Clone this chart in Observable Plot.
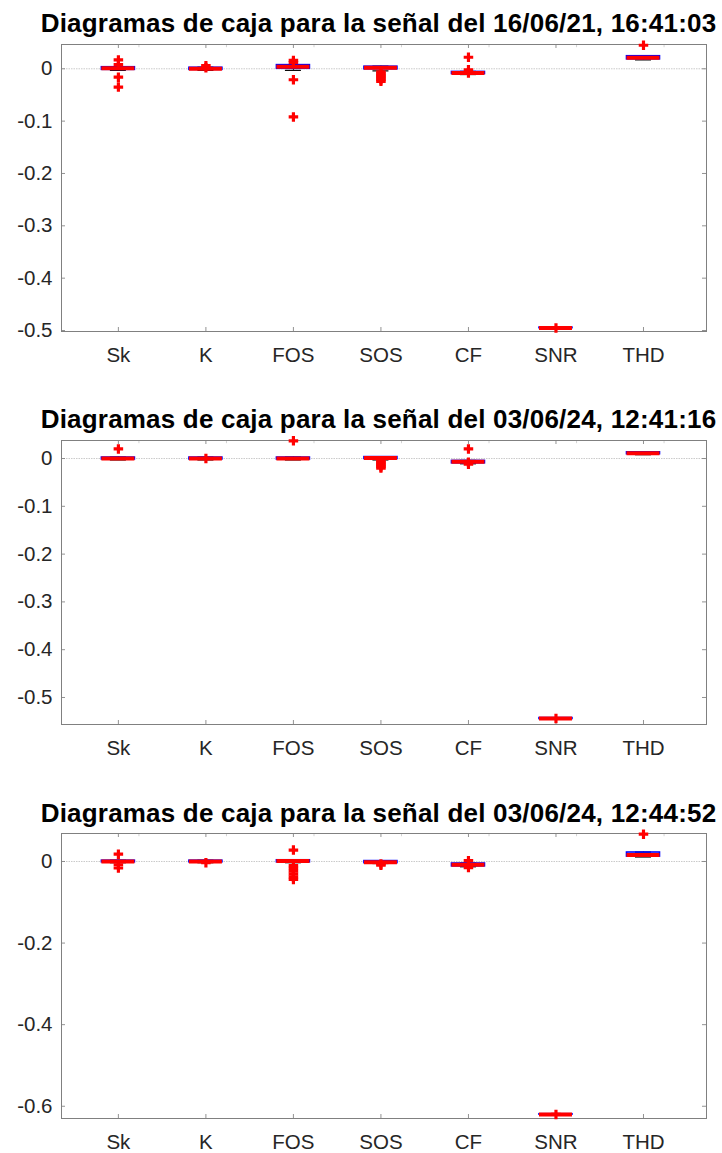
<!DOCTYPE html>
<html>
<head>
<meta charset="utf-8">
<script src="https://cdn.jsdelivr.net/npm/d3@7"></script>
<script src="https://cdn.jsdelivr.net/npm/@observablehq/plot@0.6"></script>
<style>
  html, body { margin: 0; padding: 0; background: #fff; }
  #wrap { position: relative; width: 722px; height: 1153px; overflow: hidden; background: #fff; }
  .ttl { position: absolute; white-space: nowrap; font-family: "Liberation Sans", Arial, sans-serif;
         font-weight: bold; font-size: 26px; letter-spacing: 0.2px; line-height: 1; color: #000; transform: translateX(-50%); }
  .pnl { position: absolute; left: 0; }
</style>
</head>
<body>
<div id="wrap"></div>
<script>
// ---------- data ----------
const categories = ["Sk", "K", "FOS", "SOS", "CF", "SNR", "THD"];

const titles = [
  "Diagramas de caja para la señal del 16/06/21, 16:41:03",
  "Diagramas de caja para la señal del 03/06/24, 12:41:16",
  "Diagramas de caja para la señal del 03/06/24, 12:44:52"
];

// Panel 1 (16/06/21)
const p1Q1      = [-0.002, -0.002, 0.000, -0.001, -0.010, -0.4955, 0.018];
const p1Median  = [ 0.001,  0.000, 0.004,  0.002, -0.008, -0.4950, 0.021];
const p1Q3      = [ 0.003,  0.002, 0.007,  0.004, -0.006, -0.4945, 0.024];
const p1WhiskLo = [-0.003, -0.003, -0.003, -0.004, -0.011, -0.4955, 0.017];
const p1WhiskHi = [ 0.004,  0.003, 0.008,  0.005, -0.005, -0.4945, 0.025];
const p1Outliers = [
  [0.017, 0.008, -0.016, -0.035],
  [0.006, 0.002],
  [0.016, 0.012, -0.021, -0.092],
  [-0.006, -0.009, -0.012, -0.015, -0.018, -0.021, -0.024],
  [0.022, -0.002, -0.008],
  [-0.495],
  [0.045]
];
const p1YTicks = [-0.5, -0.4, -0.3, -0.2, -0.1, 0];
const p1YDomain = [-0.5019, 0.0464];

// Panel 2 (03/06/24 12:41:16)
const p2Q1      = [-0.002, -0.002, -0.002, -0.001, -0.010, -0.5450, 0.009];
const p2Median  = [ 0.000,  0.000,  0.000,  0.001, -0.007, -0.5440, 0.011];
const p2Q3      = [ 0.002,  0.002,  0.002,  0.003, -0.005, -0.5430, 0.013];
const p2WhiskLo = [-0.003, -0.003, -0.003, -0.003, -0.011, -0.5450, 0.008];
const p2WhiskHi = [ 0.003,  0.003,  0.003,  0.004, -0.004, -0.5430, 0.014];
const p2Outliers = [
  [0.020],
  [0.000],
  [0.037],
  [-0.005, -0.008, -0.011, -0.014, -0.017, -0.020],
  [0.020, -0.008, -0.012],
  [-0.544],
  []
];
const p2YTicks = [-0.5, -0.4, -0.3, -0.2, -0.1, 0];
const p2YDomain = [-0.5565, 0.0377];

// Panel 3 (03/06/24 12:44:52)
const p3Q1      = [-0.002, -0.002, -0.002, -0.004, -0.012, -0.6205, 0.012];
const p3Median  = [ 0.000,  0.000,  0.001, -0.002, -0.008, -0.6200, 0.016];
const p3Q3      = [ 0.002,  0.002,  0.003,  0.001, -0.005, -0.6195, 0.022];
const p3WhiskLo = [-0.003, -0.003, -0.003, -0.005, -0.013, -0.6205, 0.011];
const p3WhiskHi = [ 0.003,  0.003,  0.004,  0.002, -0.004, -0.6195, 0.023];
const p3Outliers = [
  [0.018, -0.008, -0.016],
  [-0.003],
  [0.028, -0.010, -0.017, -0.024, -0.031, -0.038, -0.044],
  [-0.006, -0.009],
  [0.002, -0.015],
  [-0.620],
  [0.067]
];
const p3YTicks = [-0.6, -0.4, -0.2, 0];
const p3YDomain = [-0.630, 0.0686];

// ---------- layout ----------
const panels = [
  {title: titles[0], q1: p1Q1, med: p1Median, q3: p1Q3, lo: p1WhiskLo, hi: p1WhiskHi, out: p1Outliers,
   yTicks: p1YTicks, yDomain: p1YDomain, top: 0, marginTop: 44, plotH: 287, marginBottom: 40, titleTop: 9.5},
  {title: titles[1], q1: p2Q1, med: p2Median, q3: p2Q3, lo: p2WhiskLo, hi: p2WhiskHi, out: p2Outliers,
   yTicks: p2YTicks, yDomain: p2YDomain, top: 390, marginTop: 50, plotH: 284, marginBottom: 40, titleTop: 405.5},
  {title: titles[2], q1: p3Q1, med: p3Median, q3: p3Q3, lo: p3WhiskLo, hi: p3WhiskHi, out: p3Outliers,
   yTicks: p3YTicks, yDomain: p3YDomain, top: 783, marginTop: 50, plotH: 285, marginBottom: 35, titleTop: 800}
];

const W = 722, ML = 61, MR = 16;
const xDomain = [0.35, 7.72];
const pxPerX = (W - ML - MR) / (xDomain[1] - xDomain[0]);
const halfBox = 16.5 / pxPerX;
const halfCap = 8 / pxPerX;
const titleCenter = 378.5;

const wrap = document.getElementById("wrap");

panels.forEach(p => {
  const rows = categories.map((c, i) => ({
    i: i + 1, cat: c, q1: p.q1[i], med: p.med[i], q3: p.q3[i], lo: p.lo[i], hi: p.hi[i]
  }));
  const outs = [];
  categories.forEach((c, i) => p.out[i].forEach(v => outs.push({i: i + 1, v})));
  const [y0, y1] = p.yDomain;
  const pxPerY = p.plotH / (y1 - y0);
  const tickLenY = 4 / pxPerY;
  const tickLenX = 4 / pxPerX;
  const xt = d3.range(1, 8);
  const xtMinor = xt.map(d => d + 0.235).filter(d => d < xDomain[1]);

  const chart = Plot.plot({
    width: W,
    height: p.marginTop + p.plotH + p.marginBottom,
    marginLeft: ML, marginRight: MR, marginTop: p.marginTop, marginBottom: p.marginBottom,
    style: {fontFamily: "'Liberation Sans', Arial, sans-serif", fontSize: "20.5px", color: "#262626", background: "transparent", overflow: "visible"},
    x: {type: "linear", domain: xDomain, ticks: xt, tickFormat: d => categories[d - 1], tickSize: 0, tickPadding: 16, label: null},
    y: {domain: p.yDomain, ticks: p.yTicks, tickFormat: d => d === 0 ? "0" : String(d), tickSize: 0, tickPadding: 9, label: null},
    marks: [
      Plot.ruleY([0], {stroke: "#c4c4c4", strokeWidth: 0.9, strokeDasharray: "1.5,1"}),
      // inward ticks
      Plot.ruleX(xt, {x: d => d, y1: y0, y2: y0 + tickLenY, stroke: "#777", strokeWidth: 0.8}),
      Plot.ruleX(xt, {x: d => d, y1: y1, y2: y1 - tickLenY, stroke: "#777", strokeWidth: 0.8}),
      Plot.ruleX(xtMinor, {x: d => d, y1: y1, y2: y1 - tickLenY * 0.8, stroke: "#c8c8c8", strokeWidth: 0.8}),
      Plot.ruleY(p.yTicks, {y: d => d, x1: xDomain[0], x2: xDomain[0] + tickLenX, stroke: "#777", strokeWidth: 0.8}),
      Plot.ruleY(p.yTicks, {y: d => d, x1: xDomain[1], x2: xDomain[1] - tickLenX, stroke: "#777", strokeWidth: 0.8}),
      Plot.frame({stroke: "#808080", strokeWidth: 1}),
      // whiskers
      Plot.ruleX(rows, {x: "i", y1: "q3", y2: "hi", stroke: "#000", strokeWidth: 1, strokeDasharray: "3,2"}),
      Plot.ruleX(rows, {x: "i", y1: "lo", y2: "q1", stroke: "#000", strokeWidth: 1, strokeDasharray: "3,2"}),
      Plot.ruleY(rows, {y: "hi", x1: d => d.i - halfCap, x2: d => d.i + halfCap, stroke: "#000", strokeWidth: 1.2}),
      Plot.ruleY(rows, {y: "lo", x1: d => d.i - halfCap, x2: d => d.i + halfCap, stroke: "#000", strokeWidth: 1.2}),
      // box
      Plot.rect(rows, {x1: d => d.i - halfBox, x2: d => d.i + halfBox, y1: "q1", y2: "q3", stroke: "#0000ff", strokeWidth: 1.6, fill: "none"}),
      // median
      Plot.ruleY(rows, {y: "med", x1: d => d.i - halfBox, x2: d => d.i + halfBox, stroke: "#ff0000", strokeWidth: 4}),
      // outliers
      Plot.dot(outs, {x: "i", y: "v", symbol: d3.symbolCross, r: 4, fill: "#ff0000", stroke: "none"})
    ]
  });
  chart.classList.add("pnl");
  chart.style.top = p.top + "px";
  wrap.appendChild(chart);

  const t = document.createElement("div");
  t.className = "ttl";
  t.textContent = p.title;
  t.style.left = titleCenter + "px";
  t.style.top = p.titleTop + "px";
  wrap.appendChild(t);
});
</script>
</body>
</html>
